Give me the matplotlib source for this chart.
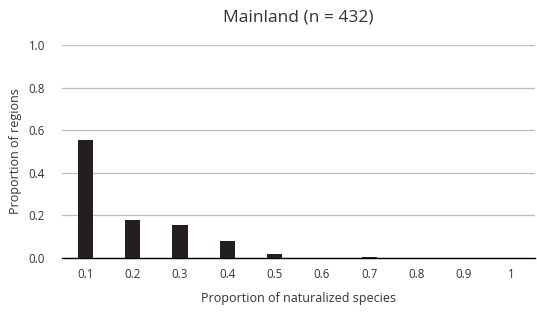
import matplotlib.pyplot as plt

plt.rcParams['font.family'] = ['Open Sans', 'DejaVu Sans']

# dados
categorias = ['0.1', '0.2', '0.3', '0.4', '0.5', '0.6', '0.7', '0.8', '0.9', '1']
proporcao = [0.555, 0.177, 0.156, 0.081, 0.017, 0.0, 0.005, 0.0, 0.0, 0.0]
y_ticks = [0.0, 0.2, 0.4, 0.6, 0.8, 1.0]

fig = plt.figure(figsize=(5.37, 3.12), dpi=100)
ax = fig.add_axes([0.115, 0.173, 0.881, 0.683])

x = range(len(categorias))
ax.bar(x, proporcao, width=0.32, color='#231f20', zorder=3)

ax.set_xlim(-0.5, len(categorias) - 0.5)
ax.set_ylim(0, 1.0)
ax.set_yticks(y_ticks)
ax.set_yticklabels([f"{v:.1f}" for v in y_ticks])
ax.set_xticks(list(x))
ax.set_xticklabels(categorias)
ax.yaxis.grid(True, color='#bdbdbd', linewidth=0.9, zorder=0)

for s in ['top', 'right', 'left']:
    ax.spines[s].set_visible(False)
ax.spines['bottom'].set_color('black')
ax.spines['bottom'].set_linewidth(1.0)
ax.tick_params(axis='both', length=0, labelsize=8.3, colors='#333333', pad=7)
ax.tick_params(axis='y', pad=12)

ax.set_xlabel("Proportion of naturalized species", fontsize=9, color='#333333', labelpad=8)
ax.set_ylabel("Proportion of regions", fontsize=9, color='#333333', labelpad=5)
ax.set_title("Mainland (n = 432)", fontsize=12.5, color='#333333', pad=17)

fig.savefig("out.png", dpi=100)
